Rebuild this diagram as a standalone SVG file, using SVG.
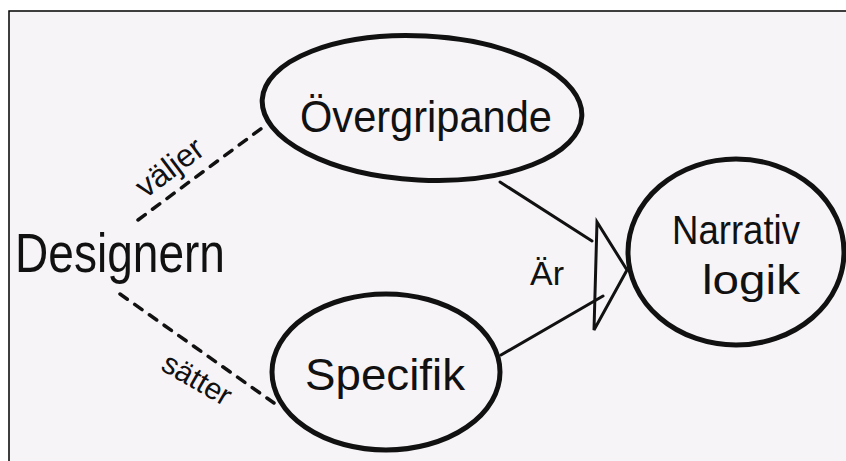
<svg xmlns="http://www.w3.org/2000/svg" width="846" height="461" viewBox="0 0 846 461">
<style>
.ink{fill:none;stroke:#111;stroke-width:5;stroke-linecap:round;stroke-linejoin:round}
.thin{fill:none;stroke:#111;stroke-width:3;stroke-linecap:round}
.dash{fill:none;stroke:#111;stroke-width:3.5;stroke-linecap:round;stroke-dasharray:9 9}
.t{font-family:"Liberation Sans","DejaVu Sans",sans-serif;fill:#111}
</style>
<rect x="0" y="0" width="846" height="461" fill="#ffffff"/>
<rect x="9" y="11" width="837" height="450" fill="#f7f4f8"/>
<path d="M9 461 V11 H846" fill="none" stroke="#000" stroke-width="1.5"/>
<g id="connectors">
<path class="dash" d="M138 220 L262 128"/>
<path class="dash" d="M120 294 L274 403"/>
<path class="thin" d="M500 182 L592 241"/>
<path class="thin" d="M501 355 L603 296"/>
<path class="thin" d="M597 222 L594 330 L627 270 Z"/>
<text class="t" x="547" y="285" font-size="34" text-anchor="middle">Är</text>
<text class="t" font-size="32" text-anchor="middle" transform="translate(176,176) rotate(-37)">väljer</text>
<text class="t" font-size="30" text-anchor="middle" transform="translate(192,388) rotate(30)">sätter</text>
</g>
<g id="designern">
<text class="t" x="15" y="272" font-size="56" textLength="210" lengthAdjust="spacingAndGlyphs">Designern</text>
</g>
<g id="overgripande">
<ellipse class="ink" cx="422" cy="108" rx="160" ry="72" transform="rotate(3 422 108)"/>
<text class="t" x="300" y="132" font-size="44" textLength="252" lengthAdjust="spacingAndGlyphs">Övergripande</text>
</g>
<g id="narrativ">
<ellipse class="ink" cx="736" cy="252" rx="108" ry="93"/>
<text class="t" x="672" y="244" font-size="40" textLength="128" lengthAdjust="spacingAndGlyphs">Narrativ</text>
<text class="t" x="702" y="294" font-size="40" textLength="98" lengthAdjust="spacingAndGlyphs">logik</text>
</g>
<g id="specifik">
<ellipse class="ink" cx="386" cy="372" rx="114" ry="78"/>
<text class="t" x="305" y="390" font-size="44" textLength="160" lengthAdjust="spacingAndGlyphs">Specifik</text>
</g>
</svg>
